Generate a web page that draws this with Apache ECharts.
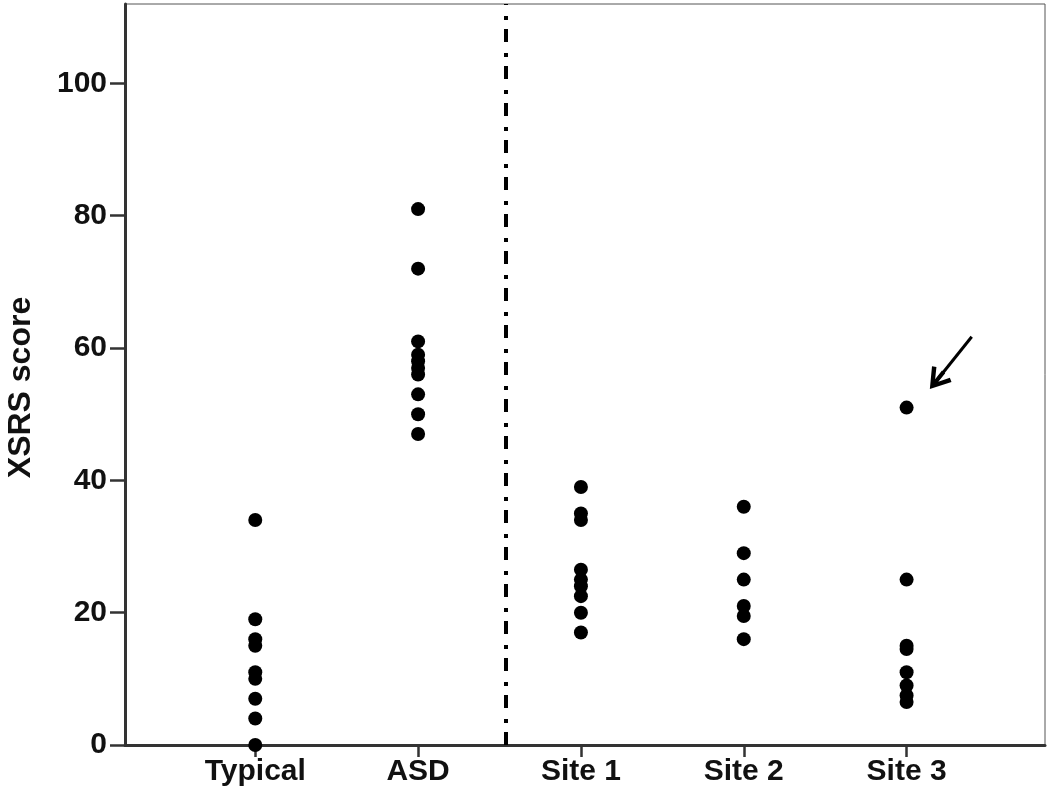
<!DOCTYPE html>
<html lang="en">
<head>
    <meta charset="UTF-8">
    <title>XSRS score</title>
    <script src="https://cdn.jsdelivr.net/npm/echarts@6/dist/echarts.min.js"></script>
    <style>
        html, body { margin: 0; padding: 0; background: #fff; }
        #chart { width: 1050px; height: 801px; }
    </style>
</head>
<body>
    <div id="chart"></div>
    <script>
        // groups on the x axis
        const categories = ['Typical', 'ASD', 'Site 1', 'Site 2', 'Site 3'];
        // scores per group
        const typical = [34, 19, 16, 15, 11, 10, 7, 4, 0];
        const asd = [81, 72, 61, 59, 58, 57, 56, 53, 50, 47];
        const site1 = [39, 35, 34, 26.5, 25, 24, 22.5, 20, 17];
        const site2 = [36, 29, 25, 21, 19.5, 16];
        const site3 = [51, 25, 15, 14.5, 11, 9, 7.5, 6.5];
        const yTicks = [0, 20, 40, 60, 80, 100];
        // separator between the reference groups and the sites
        const separatorX = 2.535;
        // arrow pointing at the Site 3 outlier: [start, end] in data units
        const arrow = [[5.40, 61.7], [5.185, 55.1]];

        const groups = [typical, asd, site1, site2, site3];
        let points = [];
        groups.forEach(function (vals, i) {
            vals.forEach(function (v) {
                points.push([i + 1, v]);
            });
        });

        const font = 'Liberation Sans, Arial, sans-serif';
        // open arrow head (tip up, rotated by markLine)
        const arrowHead = 'path://M0,0 L8,13 L5.5,14.5 L1.3,7.5 L1.3,15 L-1.3,15 L-1.3,7.5 L-5.5,14.5 L-8,13 Z';

        const chart = echarts.init(document.getElementById('chart'));
        chart.setOption({
            animation: false,
            grid: {
                left: 125, right: 5, top: 4, bottom: 56,
                outerBoundsMode: 'none',
                show: true, borderColor: '#555', borderWidth: 1
            },
            xAxis: {
                type: 'value',
                min: 0.2,
                max: 5.85,
                axisLine: { show: true, onZero: false, lineStyle: { color: '#333', width: 3 } },
                axisTick: { show: true, customValues: [1, 2, 3, 4, 5], length: 12, lineStyle: { color: '#333', width: 2.5 } },
                axisLabel: {
                    customValues: [1, 2, 3, 4, 5],
                    formatter: function (v) { return categories[Math.round(v) - 1]; },
                    color: '#111', fontSize: 30, fontWeight: 'bold', fontFamily: font, margin: 12
                },
                splitLine: { show: false }
            },
            yAxis: {
                type: 'value',
                min: 0,
                max: 112,
                name: 'XSRS score',
                nameLocation: 'middle',
                nameGap: 88,
                nameTextStyle: {
                    color: '#111', fontSize: 32, fontWeight: 'bold', fontFamily: font,
                    padding: [0, 26, 0, 0]
                },
                axisLine: { show: true, lineStyle: { color: '#333', width: 3 } },
                axisTick: { show: true, customValues: yTicks, length: 15, lineStyle: { color: '#333', width: 2.5 } },
                axisLabel: {
                    customValues: yTicks,
                    color: '#111', fontSize: 30, fontWeight: 'bold', fontFamily: font, margin: 18
                },
                splitLine: { show: false }
            },
            series: [
                {
                    type: 'scatter',
                    data: points,
                    symbol: 'circle',
                    symbolSize: 14,
                    itemStyle: { color: '#000', opacity: 1 },
                    markLine: {
                        silent: true,
                        symbol: ['none', 'none'],
                        label: { show: false },
                        data: [
                            {
                                xAxis: separatorX,
                                lineStyle: { color: '#000', width: 4, type: [13, 9, 4, 11] }
                            },
                            [
                                { coord: arrow[0] },
                                { coord: arrow[1], symbol: arrowHead, symbolSize: [25, 22] }
                            ]
                        ],
                        lineStyle: { color: '#000', width: 3, type: 'solid' }
                    }
                }
            ]
        });
    </script>
</body>
</html>
